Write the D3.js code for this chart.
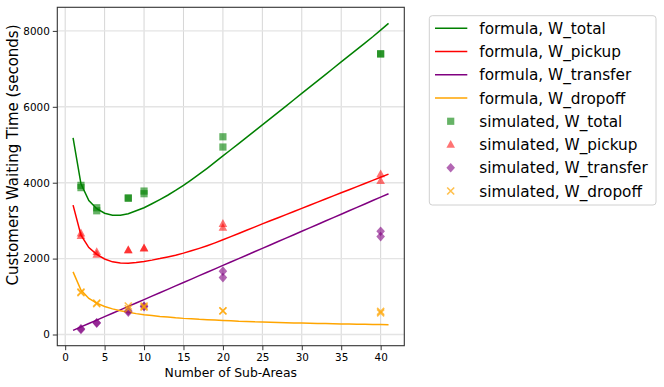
<!DOCTYPE html>
<html>
<head>
<meta charset="utf-8">
<script src="https://cdn.jsdelivr.net/npm/d3@7"></script>
<style>
body { margin: 0; background: #fff; }
text { font-family: "DejaVu Sans", sans-serif; fill: #000; }
</style>
</head>
<body>
<div id="chart"></div>
<script>
// formula curves, sampled at N = 1..41
var N = d3.range(1, 42);
var W_PICKUP = [3410, 2620, 2290, 2110, 1990, 1915, 1885, 1880, 1895, 1925, 1960, 2000, 2045, 2090, 2145,
    2205, 2270, 2340, 2415, 2495, 2578, 2662, 2746, 2830, 2914, 2996, 3078, 3160, 3242, 3324,
    3406, 3488, 3570, 3652, 3734, 3816, 3898, 3980, 4062, 4144, 4226];
var W_TRANSFER = [110, 200, 290, 380, 470, 560, 650, 740, 830, 920, 1010, 1100, 1190, 1280, 1370,
    1460, 1550, 1640, 1730, 1820, 1910, 2000, 2090, 2180, 2270, 2360, 2450, 2540, 2630, 2720,
    2810, 2900, 2990, 3080, 3170, 3260, 3350, 3440, 3530, 3620, 3710];
var W_DROPOFF = [1650, 1170, 950, 825, 740, 675, 625, 585, 550, 520, 500, 475, 460, 440, 425,
    415, 400, 390, 380, 370, 360, 350, 345, 335, 330, 325, 318, 312, 306, 300,
    296, 292, 287, 283, 279, 275, 271, 268, 264, 261, 258];
var W_TOTAL = [5180, 3970, 3530, 3315, 3195, 3140, 3145, 3180, 3260, 3340, 3445, 3555, 3670, 3795, 3930,
    4075, 4225, 4380, 4540, 4705, 4868, 5032, 5196, 5360, 5525, 5690, 5855, 6020, 6186, 6352,
    6518, 6684, 6850, 7016, 7182, 7348, 7514, 7680, 7846, 8020, 8200];

// simulated runs (two per number of sub-areas)
var SIM_N = [2, 2, 4, 4, 8, 8, 10, 10, 20, 20, 40, 40];
var SIM_TOTAL = [3930, 3870, 3340, 3260, 3590, 3600, 3780, 3710, 5210, 4940, 7390, 7400];
var SIM_PICKUP = [2670, 2600, 2180, 2110, 2220, 2230, 2270, 2280, 2920, 2820, 4230, 4050];
var SIM_TRANSFER = [150, 135, 310, 300, 620, 590, 750, 730, 1670, 1500, 2720, 2580];
var SIM_DROPOFF = [1120, 1100, 830, 810, 750, 680, 750, 720, 620, 625, 610, 570];

var X_TICKS = [0, 5, 10, 15, 20, 25, 30, 35, 40];
var Y_TICKS = [0, 2000, 4000, 6000, 8000];

var W = 664, H = 387;
var L = 57.3, R = 404.3, T = 7.3, B = 345.7;

var svg = d3.select('#chart').append('svg').attr('width', W).attr('height', H);

var x = d3.scaleLinear().domain([-1, 43]).range([L, R]);
var y = d3.scaleLinear().domain([-295, 8622]).range([B, T]);

// grid
svg.append('g').selectAll('line').data(X_TICKS).enter().append('line')
    .attr('x1', function(d){return x(d)}).attr('x2', function(d){return x(d)})
    .attr('y1', T).attr('y2', B)
    .attr('stroke', '#d6d6d6').attr('stroke-width', 1);
svg.append('g').selectAll('line').data(Y_TICKS).enter().append('line')
    .attr('x1', L).attr('x2', R)
    .attr('y1', function(d){return y(d)}).attr('y2', function(d){return y(d)})
    .attr('stroke', '#e4e4e4').attr('stroke-width', 1.4);

// axes
var xAxis = svg.append('g').attr('transform', 'translate(0,' + B + ')')
    .call(d3.axisBottom(x).tickValues(X_TICKS).tickSize(4.5).tickPadding(3));
var yAxis = svg.append('g').attr('transform', 'translate(' + L + ',0)')
    .call(d3.axisLeft(y).tickValues(Y_TICKS).tickSize(4.5).tickPadding(3).tickFormat(d3.format('d')));
[xAxis, yAxis].forEach(function(a){
    a.select('.domain').remove();
    a.selectAll('line').attr('stroke', '#333');
    a.selectAll('text').style('font-size', '10.4px').style('font-family', '"DejaVu Sans", sans-serif').attr('fill', '#000');
});

// formula lines
var lines = [
    {name: 'formula, W_total', vals: W_TOTAL, color: 'green'},
    {name: 'formula, W_pickup', vals: W_PICKUP, color: 'red'},
    {name: 'formula, W_transfer', vals: W_TRANSFER, color: 'purple'},
    {name: 'formula, W_dropoff', vals: W_DROPOFF, color: 'orange'}
];
var line = d3.line().x(function(d){return x(d[0])}).y(function(d){return y(d[1])});
var plot = svg.append('g');
lines.forEach(function(s){
    plot.append('path')
        .attr('d', line(N.map(function(n, i){return [n, s.vals[i]]})))
        .attr('fill', 'none').attr('stroke', s.color).attr('stroke-width', 1.5);
});

// markers
var sims = [
    {name: 'simulated, W_total', vals: SIM_TOTAL, color: 'green', shape: 'square'},
    {name: 'simulated, W_pickup', vals: SIM_PICKUP, color: 'red', shape: 'triangle'},
    {name: 'simulated, W_transfer', vals: SIM_TRANSFER, color: 'purple', shape: 'diamond'},
    {name: 'simulated, W_dropoff', vals: SIM_DROPOFF, color: 'orange', shape: 'x'}
];
function marker(g, s, cx, cy) {
    if (s.shape == 'square') {
        g.append('rect').attr('x', cx - 3.6).attr('y', cy - 3.6).attr('width', 7.2).attr('height', 7.2)
            .attr('fill', s.color).attr('fill-opacity', 0.6);
    } else if (s.shape == 'triangle') {
        g.append('path').attr('d', 'M' + cx + ',' + (cy - 4.6) + 'L' + (cx + 4.3) + ',' + (cy + 3.2) + 'L' + (cx - 4.3) + ',' + (cy + 3.2) + 'Z')
            .attr('fill', s.color).attr('fill-opacity', 0.55);
    } else if (s.shape == 'diamond') {
        g.append('path').attr('d', 'M' + cx + ',' + (cy - 4.8) + 'L' + (cx + 4.3) + ',' + cy + 'L' + cx + ',' + (cy + 4.8) + 'L' + (cx - 4.3) + ',' + cy + 'Z')
            .attr('fill', s.color).attr('fill-opacity', 0.6);
    } else {
        g.append('path').attr('d', 'M' + (cx - 3.5) + ',' + (cy - 3.5) + 'L' + (cx + 3.5) + ',' + (cy + 3.5) + 'M' + (cx - 3.5) + ',' + (cy + 3.5) + 'L' + (cx + 3.5) + ',' + (cy - 3.5))
            .attr('stroke', s.color).attr('stroke-opacity', 0.7).attr('stroke-width', 1.6).attr('fill', 'none');
    }
}
sims.forEach(function(s){
    var g = plot.append('g');
    SIM_N.forEach(function(n, i){ marker(g, s, x(n), y(s.vals[i])); });
});

// frame
svg.append('rect').attr('x', L).attr('y', T).attr('width', R - L).attr('height', B - T)
    .attr('fill', 'none').attr('stroke', '#333').attr('stroke-width', 1.1);

// axis labels
svg.append('text').attr('x', (L + R) / 2).attr('y', 377).attr('text-anchor', 'middle')
    .style('font-size', '12.4px').text('Number of Sub-Areas');
svg.append('text').attr('transform', 'translate(18,155) rotate(-90)').attr('text-anchor', 'middle')
    .style('font-size', '15px').text('Customers Waiting Time (seconds)');

// legend
var leg = svg.append('g');
leg.append('rect').attr('x', 429.3).attr('y', 15.7).attr('width', 226.7).attr('height', 189.3)
    .attr('rx', 3).attr('fill', '#fff').attr('fill-opacity', 0.8).attr('stroke', '#d0d0d0');
var rowY = d3.scaleLinear().domain([0, 7]).range([28.3, 191]);
lines.forEach(function(s, i){
    leg.append('line').attr('x1', 435).attr('x2', 467.3).attr('y1', rowY(i)).attr('y2', rowY(i))
        .attr('stroke', s.color).attr('stroke-width', 1.5);
    leg.append('text').attr('x', 479.3).attr('y', rowY(i)).attr('dy', '0.36em').style('font-size', '15.3px').text(s.name);
});
sims.forEach(function(s, i){
    marker(leg, s, 450.7, rowY(i + 4));
    leg.append('text').attr('x', 479.3).attr('y', rowY(i + 4)).attr('dy', '0.36em').style('font-size', '15.3px').text(s.name);
});
</script>
</body>
</html>
